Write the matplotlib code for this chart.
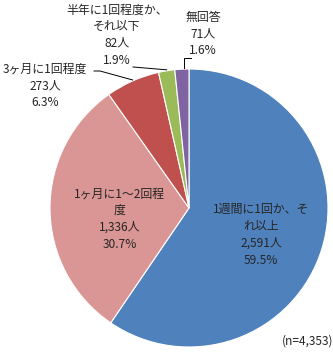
import numpy as np
import matplotlib
matplotlib.use("Agg")
import matplotlib.pyplot as plt

plt.rcParams['font.family'] = ['Noto Sans CJK JP', 'DejaVu Sans']

categories = ["1週間に1回か、そ\nれ以上", "1ヶ月に1～2回程\n度", "3ヶ月に1回程度",
              "半年に1回程度か、\nそれ以下", "無回答"]
counts = [2591, 1336, 273, 82, 71]
count_labels = ["2,591人", "1,336人", "273人", "82人", "71人"]
percents = ["59.5%", "30.7%", "6.3%", "1.9%", "1.6%"]
colors = ["#4F81BD", "#DA9694", "#C0504D", "#9BBB59", "#8064A2"]

W, H = 333, 354
fig = plt.figure(figsize=(W / 100, H / 100), dpi=100)
ax = fig.add_axes([0, 0, 1, 1])
ax.set_xlim(0, W)
ax.set_ylim(0, H)
ax.set_aspect('equal')
ax.axis('off')

cx, cy, R = 189, H - 208, 139
wedges, _ = ax.pie(counts, colors=colors, startangle=90, counterclock=False,
                   center=(cx, cy), radius=R,
                   wedgeprops=dict(edgecolor='white', linewidth=0.8))
ax.set_xlim(0, W)
ax.set_ylim(0, H)

fs = 8.6
def lab(i):
    return f"{categories[i]}\n{count_labels[i]}\n{percents[i]}"

# label positions (pixel coords, y from top)
pos = [(261, 235), (120, 219), (45, 86), (117, 35), (203, 34)]
for i, (px, py) in enumerate(pos):
    ax.text(px, H - py, lab(i), ha='center', va='center', fontsize=fs,
            linespacing=1.38, color='#262626')

# leader lines
def edge(i):
    w = wedges[i]
    a = np.deg2rad((w.theta1 + w.theta2) / 2)
    return cx + R * np.cos(a), cy + R * np.sin(a)

ex, ey = edge(2)
ax.plot([94, 100, ex], [H - 71, H - 71, ey + 1], color='black', lw=0.7)
ex, ey = edge(3)
ax.plot([133, ex], [H - 67, ey + 1], color='black', lw=0.7)
ex, ey = edge(4)
ax.plot([191, 184, 184], [H - 58, H - 58, ey + 1], color='black', lw=0.7)

ax.text(282, H - 341, "(n=4,353)", ha='left', va='center', fontsize=fs,
        color='#262626')

fig.savefig("out.png", dpi=100)
